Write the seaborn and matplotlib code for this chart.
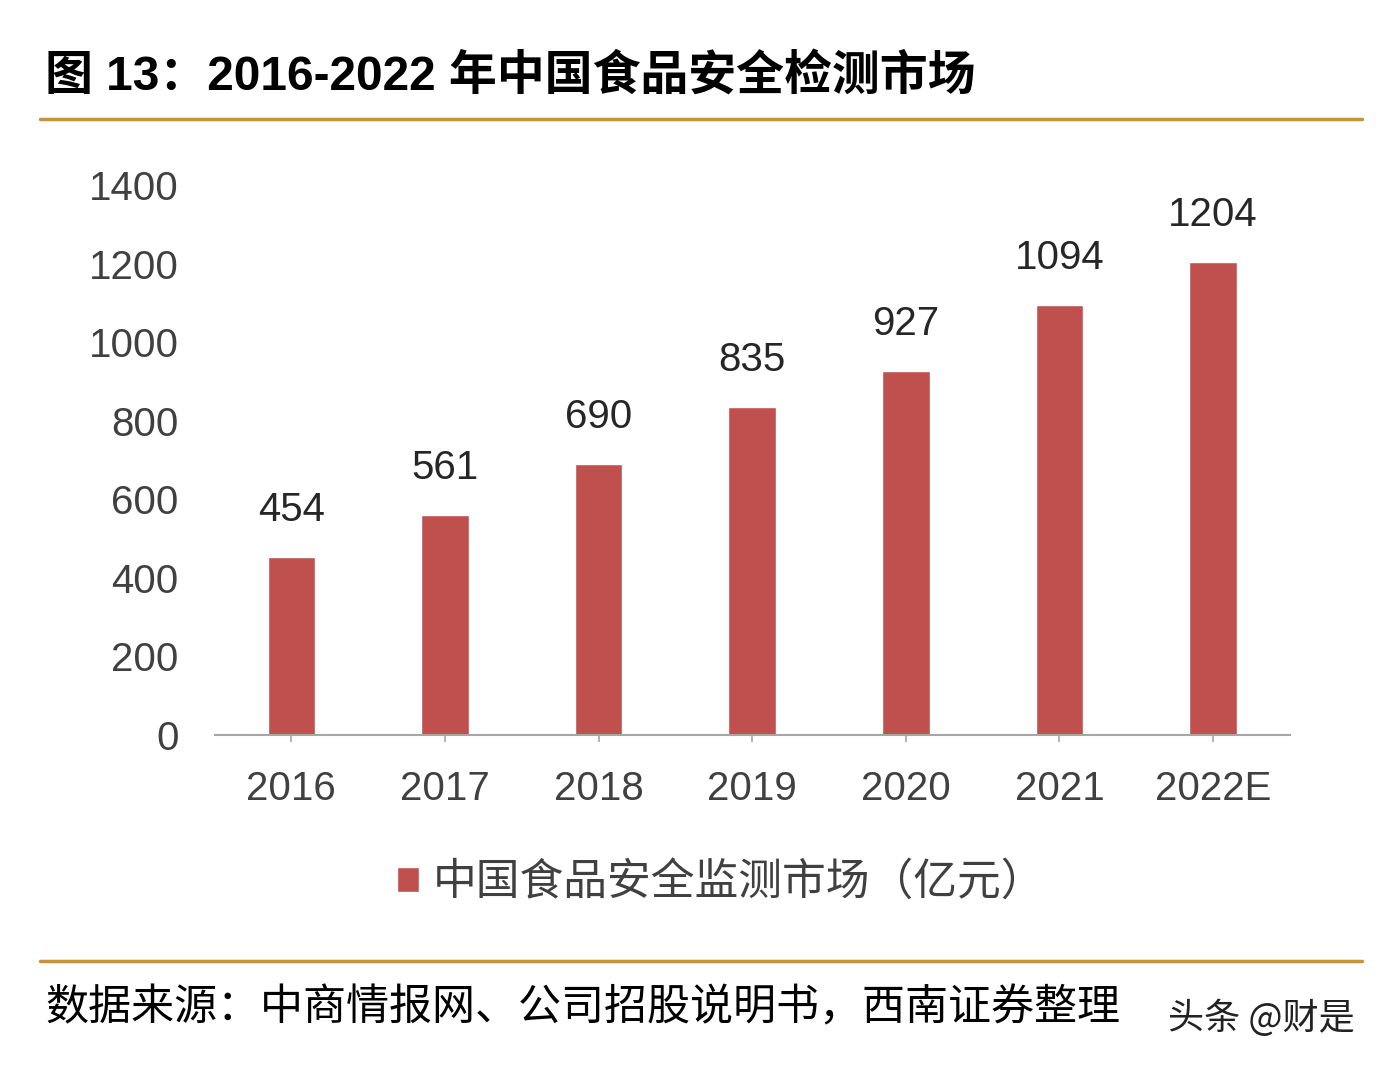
import matplotlib
matplotlib.use("Agg")
import matplotlib.pyplot as plt
import seaborn as sns
import pandas as pd
from matplotlib.lines import Line2D

years = ["2016", "2017", "2018", "2019", "2020", "2021", "2022E"]
market = [454, 561, 690, 835, 927, 1094, 1204]
y_ticks = [0, 200, 400, 600, 800, 1000, 1200, 1400]

title = "图 13：2016-2022 年中国食品安全检测市场"
series_name = "中国食品安全监测市场（亿元）"
source = "数据来源：中商情报网、公司招股说明书，西南证券整理"
watermark = "头条 @财是"

bar_red = "#C0504D"
gold = "#C8923A"
text_grey = "#404040"

sns.set_theme(style="white")
plt.rcParams["font.family"] = ["Liberation Sans", "Noto Sans CJK SC", "DejaVu Sans"]

df = pd.DataFrame({"year": years, "value": market})

fig = plt.figure(figsize=(13.84, 10.66), dpi=100)
fig.patch.set_facecolor("white")
ax = fig.add_axes([0.155, 0.3105, 0.777, 0.516])

sns.barplot(data=df, x="year", y="value", color=bar_red, width=0.31,
            saturation=1, label=series_name, ax=ax)

ax.set_ylim(0, 1400)
ax.set_yticks(y_ticks)
ax.set_xlim(-0.5, len(years) - 0.5)
ax.set_xlabel("")
ax.set_ylabel("")
ax.tick_params(axis="y", labelsize=29, labelcolor=text_grey, length=0, pad=26)
ax.tick_params(axis="x", labelsize=29, labelcolor=text_grey, length=5,
               color="#A6A6A6", width=1.2, direction="out", pad=20, bottom=True)

for side in ["top", "right", "left"]:
    ax.spines[side].set_visible(False)
ax.spines["bottom"].set_color("#A6A6A6")
ax.spines["bottom"].set_linewidth(1.5)

for c in ax.containers:
    ax.bar_label(c, labels=[str(v) for v in market], padding=20,
                 fontsize=29, color="#262626")

ax.legend(loc="center", bbox_to_anchor=(0.521, 0.173), bbox_transform=fig.transFigure,
          frameon=False, handlelength=0.5, handleheight=0.5,
          handletextpad=0.3, labelcolor=text_grey,
          prop={"family": ["Noto Sans CJK SC"], "size": 31.5})

fig.text(45 / 1384, 1 - 77 / 1066, title, fontsize=34.5, fontweight="bold",
         color="black", va="center", ha="left",
         family=["Liberation Sans", "Noto Sans CJK SC"])
fig.add_artist(Line2D([40 / 1384, 1362 / 1384], [1 - 119 / 1066] * 2,
                      color=gold, lw=2.5))
fig.add_artist(Line2D([40 / 1384, 1362 / 1384], [1 - 961 / 1066] * 2,
                      color=gold, lw=2.5))
fig.text(45 / 1384, 1 - 1008 / 1066, source, fontsize=31, color="black",
         va="center", ha="left", family=["Noto Sans CJK SC"])
fig.text(1355 / 1384, 1 - 1018 / 1066, watermark, fontsize=26, color="#222222",
         va="center", ha="right", family=["Noto Sans CJK SC"])

fig.savefig("out.png", dpi=100, facecolor="white")
